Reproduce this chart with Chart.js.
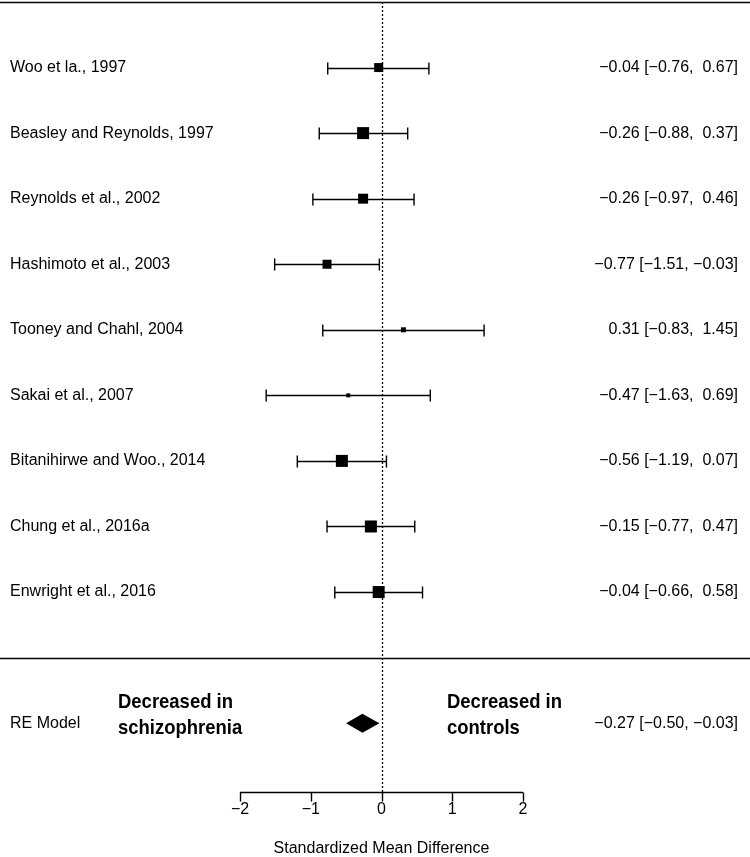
<!DOCTYPE html>
<html>
<head>
<meta charset="utf-8">
<script src="https://cdn.jsdelivr.net/npm/chart.js@4.4.0/dist/chart.umd.min.js"></script>
<style>
html,body{margin:0;padding:0;background:#fff;}
canvas{display:block;}
</style>
</head>
<body>
<canvas id="c" width="750" height="857"></canvas>
<script>
const studies = ["Woo et la., 1997","Beasley and Reynolds, 1997","Reynolds et al., 2002","Hashimoto et al., 2003","Tooney and Chahl, 2004","Sakai et al., 2007","Bitanihirwe and Woo., 2014","Chung et al., 2016a","Enwright et al., 2016"];
const estimates = [-0.04,-0.26,-0.26,-0.77,0.31,-0.47,-0.56,-0.15,-0.04];
const lower = [-0.76,-0.88,-0.97,-1.51,-0.83,-1.63,-1.19,-0.77,-0.66];
const upper = [0.67,0.37,0.46,-0.03,1.45,0.69,0.07,0.47,0.58];
const weights = [9,12,10,9,5,4,12,12,12]; // square side in px (approx. from picture)
const rowPos = [9,8,7,6,5,4,3,2,1];
const reLabel = "RE Model";
const reEst = -0.27, reLow = -0.50, reUp = -0.03, reRow = -1;
const xTicks = [-2,-1,0,1,2];
const xTitle = "Standardized Mean Difference";
const leftNote = ["Decreased in","schizophrenia"];
const rightNote = ["Decreased in","controls"];

function fmt(v){ const s = Math.abs(v).toFixed(2); return (v<0?"\u2212":"")+s; }
function fmtPad(v){ return v<0 ? fmt(v) : " "+fmt(v); }
const ciLabels = estimates.map((e,i)=> fmt(e)+" ["+fmt(lower[i])+", "+fmtPad(upper[i])+"]");
const reCiLabel = fmt(reEst)+" ["+fmt(reLow)+", "+fmtPad(reUp)+"]";

const FONT = '"Liberation Sans", Arial, sans-serif';

const forestPlugin = {
  id:'forest',
  beforeDatasetsDraw(chart){
    const ctx = chart.ctx, xs = chart.scales.x, ys = chart.scales.y;
    const W = chart.width;
    ctx.save();
    // top and separator lines
    ctx.strokeStyle = '#000'; ctx.lineWidth = 1.4;
    [10, 0].forEach(v=>{
      const y = Math.round(ys.getPixelForValue(v))+0.5;
      ctx.beginPath(); ctx.moveTo(0,y); ctx.lineTo(W,y); ctx.stroke();
    });
    // dotted zero line
    const x0 = Math.round(xs.getPixelForValue(0))+0.5;
    ctx.setLineDash([2,2]); ctx.lineWidth = 1.3;
    ctx.beginPath(); ctx.moveTo(x0, ys.getPixelForValue(10)); ctx.lineTo(x0, ys.getPixelForValue(-2.05)); ctx.stroke();
    ctx.setLineDash([]);
    // error bars
    ctx.lineWidth = 1.4;
    rowPos.forEach((r,i)=>{
      const y = Math.round(ys.getPixelForValue(r))+0.5;
      const xl = xs.getPixelForValue(lower[i]), xu = xs.getPixelForValue(upper[i]);
      ctx.beginPath();
      ctx.moveTo(xl,y); ctx.lineTo(xu,y);
      ctx.moveTo(xl,y-6); ctx.lineTo(xl,y+6);
      ctx.moveTo(xu,y-6); ctx.lineTo(xu,y+6);
      ctx.stroke();
    });
    // diamond
    const yr = ys.getPixelForValue(reRow);
    ctx.fillStyle = '#000';
    ctx.beginPath();
    ctx.moveTo(xs.getPixelForValue(reLow), yr);
    ctx.lineTo(xs.getPixelForValue(reEst), yr-9.5);
    ctx.lineTo(xs.getPixelForValue(reUp), yr);
    ctx.lineTo(xs.getPixelForValue(reEst), yr+9.5);
    ctx.closePath(); ctx.fill();
    // axis
    const ya = Math.round(ys.getPixelForValue(-2.05))+0.5;
    ctx.lineWidth = 1.4;
    ctx.beginPath();
    ctx.moveTo(xs.getPixelForValue(xTicks[0]), ya);
    ctx.lineTo(xs.getPixelForValue(xTicks[xTicks.length-1]), ya);
    xTicks.forEach(t=>{ const x = Math.round(xs.getPixelForValue(t))+0.5; ctx.moveTo(x,ya); ctx.lineTo(x,ya+9); });
    ctx.stroke();
    ctx.fillStyle = '#000';
    ctx.font = '16px '+FONT; ctx.textAlign='center'; ctx.textBaseline='middle';
    xTicks.forEach(t=>{ ctx.fillText(t<0?"\u2212"+Math.abs(t):String(t), xs.getPixelForValue(t), ya+17); });
    ctx.font = '16px '+FONT;
    ctx.fillText(xTitle, xs.getPixelForValue(0), ya+56);
    // left labels and right labels
    ctx.font = '16px '+FONT; ctx.textBaseline='middle';
    rowPos.forEach((r,i)=>{
      const y = ys.getPixelForValue(r);
      ctx.textAlign='left'; ctx.fillText(studies[i], 10, y);
      ctx.textAlign='right'; ctx.fillText(ciLabels[i], 738, y);
    });
    ctx.textAlign='left'; ctx.fillText(reLabel, 10, yr);
    ctx.textAlign='right'; ctx.fillText(reCiLabel, 738, yr);
    // notes (condensed bold)
    ctx.font = 'bold 21px '+FONT; ctx.textAlign='left';
    const sx = 115 / ctx.measureText(leftNote[0]).width;
    const drawNarrow = (txt, x, y) => {
      ctx.save(); ctx.translate(x, y); ctx.scale(sx, 1); ctx.fillText(txt, 0, 0); ctx.restore();
    };
    drawNarrow(leftNote[0], 118, yr-21);
    drawNarrow(leftNote[1], 118, yr+5);
    drawNarrow(rightNote[0], 447, yr-21);
    drawNarrow(rightNote[1], 447, yr+5);
    ctx.restore();
  }
};

new Chart(document.getElementById('c'), {
  type:'scatter',
  data:{ datasets:[{
    data: estimates.map((e,i)=>({x:e, y:rowPos[i]})),
    pointStyle:'rect',
    pointRadius: weights.map(w=> w/ (2*Math.SQRT1_2)),
    pointHoverRadius: weights.map(w=> w/ (2*Math.SQRT1_2)),
    backgroundColor:'#000', borderColor:'#000', borderWidth:0
  }]},
  options:{
    responsive:false, animation:false, events:[],
    layout:{autoPadding:false, padding:{left:240,right:227,top:2,bottom:65}},
    plugins:{legend:{display:false},tooltip:{enabled:false}},
    scales:{
      x:{type:'linear',min:-2,max:2,display:false},
      y:{type:'linear',min:-2.05,max:10,display:false}
    }
  },
  plugins:[forestPlugin]
});
</script>
</body>
</html>
